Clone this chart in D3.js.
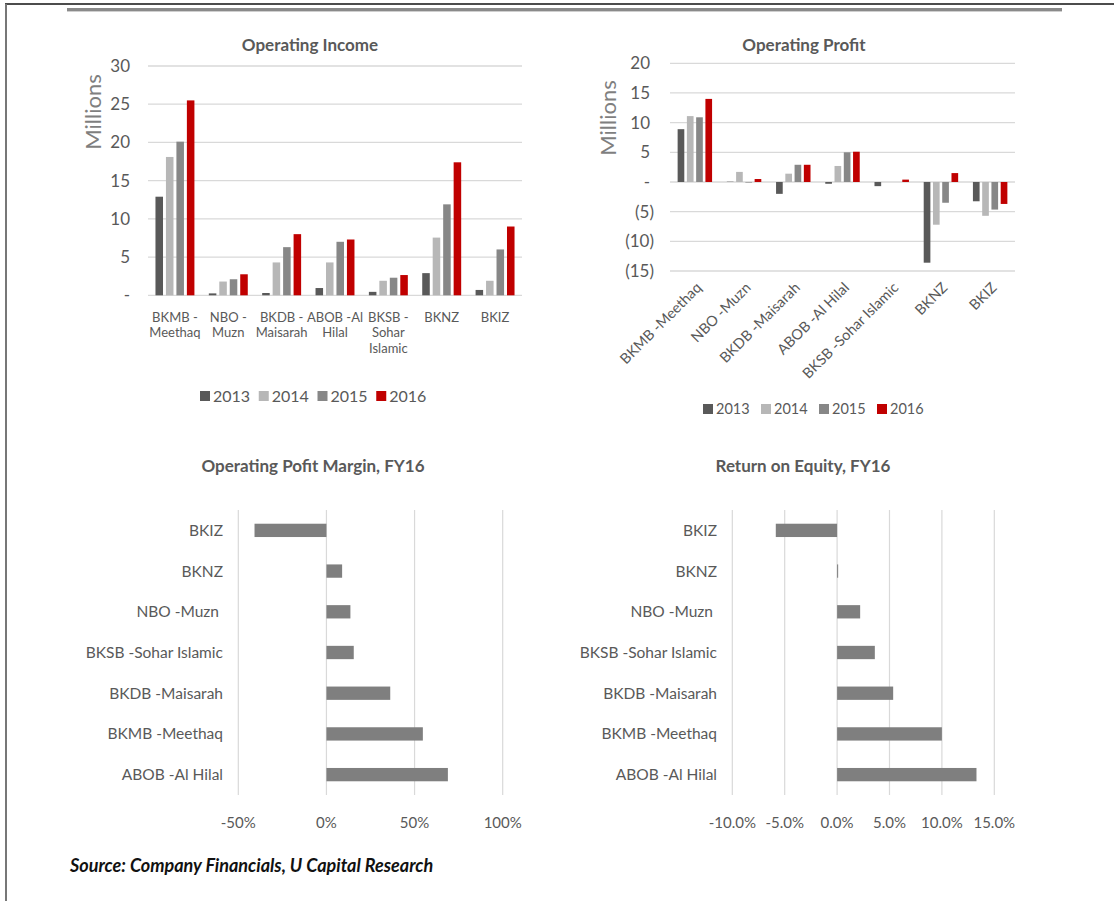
<!DOCTYPE html>
<html>
<head>
<meta charset="utf-8">
<script src="https://cdn.jsdelivr.net/npm/d3@7/dist/d3.min.js"></script>
<style>
  html, body { margin: 0; padding: 0; background: #fff; }
  svg { display: block; }
  text { font-family: Lato, 'Open Sans', sans-serif; }
</style>
</head>
<body>
<svg id="chart" width="1114" height="901"></svg>
<script>
// ---------------- DATA ----------------
const categoriesTop = ["BKMB -Meethaq", "NBO -Muzn", "BKDB -Maisarah", "ABOB -Al Hilal", "BKSB -Sohar Islamic", "BKNZ", "BKIZ"];
const categoriesTopWrapped = [["BKMB -", "Meethaq"], ["NBO -", "Muzn"], ["BKDB -", "Maisarah"], ["ABOB -Al", "Hilal"], ["BKSB -", "Sohar", "Islamic"], ["BKNZ"], ["BKIZ"]];
const years = ["2013", "2014", "2015", "2016"];

const income2013 = [12.9, 0.25, 0.3, 0.95, 0.45, 2.9, 0.7];
const income2014 = [18.1, 1.8, 4.3, 4.3, 1.9, 7.55, 1.9];
const income2015 = [20.1, 2.1, 6.3, 7.0, 2.3, 11.9, 6.0];
const income2016 = [25.5, 2.75, 8.0, 7.3, 2.65, 17.4, 9.0];

const profit2013 = [8.9, 0.05, -2.0, -0.3, -0.7, -13.6, -3.25];
const profit2014 = [11.1, 1.7, 1.4, 2.7, 0.0, -7.2, -5.7];
const profit2015 = [10.9, -0.1, 2.9, 5.0, 0.0, -3.5, -4.65];
const profit2016 = [14.0, 0.5, 2.9, 5.1, 0.4, 1.5, -3.7];

const incomeTicks = [0, 5, 10, 15, 20, 25, 30];
const profitTicks = [-15, -10, -5, 0, 5, 10, 15, 20];

const bottomCategories = ["BKIZ", "BKNZ", "NBO -Muzn ", "BKSB -Sohar Islamic", "BKDB -Maisarah", "BKMB -Meethaq", "ABOB -Al Hilal"];
const marginFY16 = [-0.408, 0.089, 0.136, 0.155, 0.362, 0.547, 0.689];
const roeFY16 = [-0.0585, 0.001, 0.022, 0.036, 0.0535, 0.100, 0.133];
const marginTicks = [-0.5, 0, 0.5, 1.0];
const roeTicks = [-0.10, -0.05, 0, 0.05, 0.10, 0.15];

const titles = ["Operating Income", "Operating Profit", "Operating Pofit Margin, FY16", "Return on Equity, FY16"];
const sourceText = "Source: Company Financials, U Capital Research";

// ---------------- STYLE ----------------
const yearColors = ["#595959", "#b7b7b7", "#878787", "#c00000"];
const barGray = "#7f7f7f";
const gridColor = "#d9d9d9";
const textColor = "#595959";

const svg = d3.select("#chart");

// Frame
svg.append("line").attr("x1", 5).attr("x2", 1114).attr("y1", 4).attr("y2", 4).attr("stroke", "#111").attr("stroke-width", 1.5);
svg.append("line").attr("x1", 6).attr("x2", 6).attr("y1", 4).attr("y2", 901).attr("stroke", "#777").attr("stroke-width", 2);
svg.append("rect").attr("x", 67).attr("y", 8).attr("width", 995).attr("height", 3).attr("fill", "#8a8a8a");
svg.append("rect").attr("x", 67).attr("y", 11).attr("width", 995).attr("height", 1).attr("fill", "#cfcfcf");

function title(x, y, t) {
  svg.append("text").attr("x", x).attr("y", y).attr("text-anchor", "middle").attr("dominant-baseline", "central")
    .attr("font-size", 17).attr("font-weight", "bold").attr("fill", textColor).text(t);
}

const hyphen = s => String(s).replace("\u2212", "-");

// ---------- Column chart helper ----------
function columnChart(opts) {
  const g = svg.append("g");
  const x0 = d3.scaleBand().domain(categoriesTop).range([opts.x0, opts.x1]).paddingInner(opts.pi).paddingOuter(opts.po);
  const x1 = d3.scaleBand().domain(years).range([0, x0.bandwidth()]).paddingInner(0.28);
  const y = d3.scaleLinear().domain(opts.domain).range([opts.yBottom, opts.yTop]);

  g.selectAll(".grid").data(opts.ticks).join("line")
    .attr("x1", opts.x0).attr("x2", opts.x1)
    .attr("y1", d => y(d)).attr("y2", d => y(d))
    .attr("stroke", gridColor).attr("stroke-width", 1.3);

  g.selectAll(".yt").data(opts.ticks).join("text")
    .attr("x", d => d < 0 ? opts.labelX + 4 : opts.labelX)
    .attr("y", d => y(d)).attr("dy", "0.35em")
    .attr("text-anchor", "end").attr("font-size", 17).attr("fill", textColor)
    .text(d => d === 0 ? "-" : (d < 0 ? "(" + Math.abs(d) + ")" : d));

  const groups = g.selectAll(".grp").data(categoriesTop).join("g")
    .attr("transform", d => `translate(${x0(d)},0)`);
  groups.selectAll("rect").data((d, i) => years.map((yr, k) => ({ yr, v: opts.series[k][i] }))).join("rect")
    .attr("x", d => x1(d.yr)).attr("width", x1.bandwidth())
    .attr("y", d => y(Math.max(0, d.v)))
    .attr("height", d => Math.abs(y(d.v) - y(0)))
    .attr("fill", d => yearColors[years.indexOf(d.yr)]);

  svg.append("text").attr("transform", `translate(${opts.millX},${opts.millY}) rotate(-90)`)
    .attr("text-anchor", "middle").attr("dominant-baseline", "central")
    .attr("font-size", 22).attr("fill", "#7f7f7f").text("Millions");
  return { g, x0, y };
}

// ---------- Chart 1: Operating Income ----------
title(310, 44, titles[0]);
const c1 = columnChart({
  x0: 148, x1: 522, pi: 0.27, po: 0.14, domain: [0, 30], yBottom: 295.3, yTop: 66,
  ticks: incomeTicks, labelX: 130, series: [income2013, income2014, income2015, income2016],
  millX: 92, millY: 112
});
c1.g.selectAll(".xl").data(categoriesTopWrapped).join("text")
  .attr("x", (d, i) => c1.x0(categoriesTop[i]) + c1.x0.bandwidth() / 2)
  .attr("y", 317).attr("text-anchor", "middle").attr("font-size", 13).attr("fill", textColor)
  .each(function (lines) {
    const t = d3.select(this);
    lines.forEach((ln, j) => t.append("tspan").attr("x", t.attr("x")).attr("dy", j === 0 ? "0.35em" : 15.5).text(ln));
  });

function legend(x0, x1, yC, fs) {
  const lx = d3.scaleBand().domain(years).range([x0, x1]);
  const lg = svg.append("g");
  lg.selectAll("rect").data(years).join("rect")
    .attr("x", d => lx(d)).attr("y", yC - 5).attr("width", 10).attr("height", 10)
    .attr("fill", (d, i) => yearColors[i]);
  lg.selectAll("text").data(years).join("text")
    .attr("x", d => lx(d) + 13).attr("y", yC).attr("dy", "0.35em")
    .attr("font-size", fs).attr("fill", textColor).text(d => d);
}
legend(200, 435, 396, 16);

// ---------- Chart 2: Operating Profit ----------
title(804, 44, titles[1]);
const c2 = columnChart({
  x0: 670, x1: 1015, pi: 0.30, po: 0.155, domain: [-15, 20], yBottom: 271, yTop: 63.3,
  ticks: profitTicks, labelX: 650, series: [profit2013, profit2014, profit2015, profit2016],
  millX: 607, millY: 118
});
c2.g.selectAll(".xl").data(categoriesTop).join("text")
  .attr("transform", d => `translate(${c2.x0(d) + c2.x0.bandwidth() / 2 + 4},${285}) rotate(-45)`)
  .attr("text-anchor", "end").attr("dy", "0.35em").attr("font-size", 14.5).attr("fill", textColor)
  .text(d => d);
legend(703, 935, 409, 14.5);

// ---------- Bar chart helper ----------
function barChart(opts) {
  const g = svg.append("g");
  const x = d3.scaleLinear().domain(opts.domain).range([opts.x0, opts.x1]);
  const y = d3.scaleBand().domain(bottomCategories).range([510, 795]).paddingInner(0.673).paddingOuter(0.337);
  g.selectAll(".grid").data(opts.ticks).join("line")
    .attr("x1", d => x(d)).attr("x2", d => x(d)).attr("y1", 510).attr("y2", 795)
    .attr("stroke", gridColor).attr("stroke-width", 1.2);
  g.selectAll(".xt").data(opts.ticks).join("text")
    .attr("x", d => x(d)).attr("y", 823).attr("dy", "0.35em").attr("text-anchor", "middle")
    .attr("font-size", 15).attr("fill", textColor).text(d => hyphen(opts.fmt(d)));
  g.selectAll("rect").data(opts.values).join("rect")
    .attr("x", d => x(Math.min(0, d))).attr("width", d => Math.abs(x(d) - x(0)))
    .attr("y", (d, i) => y(bottomCategories[i])).attr("height", y.bandwidth())
    .attr("fill", barGray);
  g.selectAll(".yl").data(bottomCategories).join("text")
    .attr("x", opts.labelX).attr("y", d => y(d) + y.bandwidth() / 2).attr("dy", "0.35em")
    .attr("text-anchor", "end").attr("font-size", 15.5).attr("fill", textColor)
    .style("white-space", "pre").text(d => d);
}

title(313, 465, titles[2]);
barChart({ domain: [-0.5, 1.0], x0: 238.3, x1: 502.7, ticks: marginTicks, values: marginFY16,
  fmt: d3.format(".0%"), labelX: 223 });

title(803, 465, titles[3]);
barChart({ domain: [-0.10, 0.15], x0: 732.3, x1: 994.3, ticks: roeTicks, values: roeFY16,
  fmt: d3.format(".1%"), labelX: 717 });

svg.append("text").attr("x", 70).attr("y", 866).attr("dy", "0.35em")
  .attr("font-size", 18).attr("font-weight", "bold").attr("font-style", "italic").attr("fill", "#111")
  .text(sourceText);
</script>
</body>
</html>
